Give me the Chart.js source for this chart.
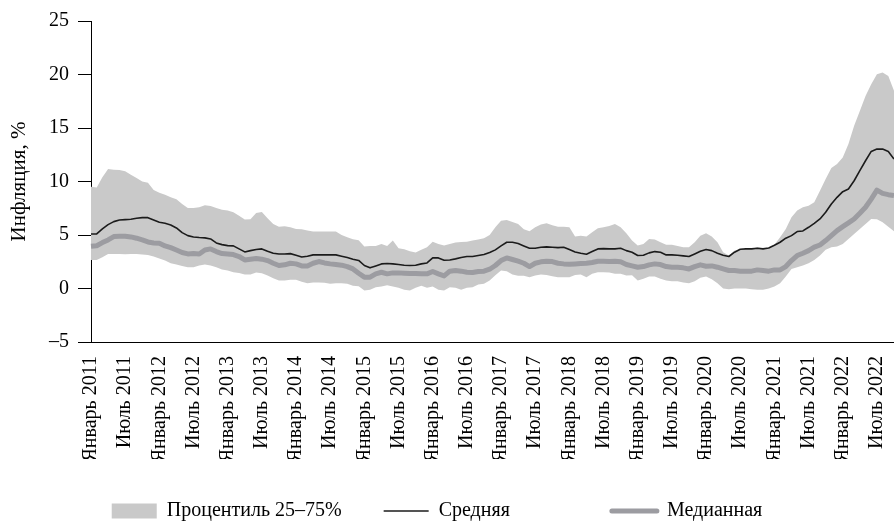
<!DOCTYPE html>
<html>
<head>
<meta charset="utf-8">
<script src="https://cdn.jsdelivr.net/npm/chart.js@4/dist/chart.umd.min.js"></script>
<style>
html,body{margin:0;padding:0;background:#fff;}
#wrap{width:894px;height:522px;}
</style>
</head>
<body>
<div id="wrap"><canvas id="c" width="894" height="522"></canvas></div>
<script>
// ---- data (Jan 2011 .. Oct 2022, monthly) ----
const monthNames = ['Январь','Февраль','Март','Апрель','Май','Июнь','Июль','Август','Сентябрь','Октябрь','Ноябрь','Декабрь'];
const years = [2011,2012,2013,2014,2015,2016,2017,2018,2019,2020,2021,2022];
const lastMonthIndex2022 = 9; // October 2022
const categories = [];
years.forEach(y => monthNames.forEach((m, k) => {
  if (y < 2022 || k <= lastMonthIndex2022) categories.push(m + ' ' + y);
}));

const meanValues = [
  5.1, 5.1, 5.57, 5.97, 6.25, 6.4, 6.44, 6.47, 6.56, 6.62, 6.62, 6.4,
  6.19, 6.09, 5.94, 5.66, 5.22, 4.94, 4.82, 4.76, 4.73, 4.63, 4.26, 4.1,
  4.01, 3.98, 3.7, 3.42, 3.54, 3.64, 3.7, 3.48, 3.3, 3.23, 3.23, 3.26,
  3.11, 2.95, 3.02, 3.14, 3.14, 3.14, 3.14, 3.14, 3.02, 2.89, 2.74, 2.62,
  2.15, 1.93, 2.11, 2.3, 2.33, 2.3, 2.24, 2.18, 2.15, 2.18, 2.3, 2.39,
  2.86, 2.86, 2.64, 2.67, 2.77, 2.89, 2.99, 2.99, 3.08, 3.17, 3.36, 3.61,
  3.98, 4.32, 4.32, 4.2, 3.98, 3.76, 3.76, 3.86, 3.89, 3.86, 3.82, 3.86,
  3.64, 3.42, 3.3, 3.2, 3.45, 3.7, 3.73, 3.7, 3.7, 3.76, 3.54,
  3.39, 3.08, 3.11, 3.33, 3.45, 3.39, 3.14, 3.14, 3.11, 3.05, 2.99, 3.23,
  3.48, 3.64, 3.54, 3.3, 3.11, 2.99, 3.39, 3.67, 3.7, 3.7, 3.76, 3.7,
  3.79, 4.04, 4.32, 4.7, 4.94, 5.32, 5.38, 5.72, 6.09, 6.5, 7.12, 7.9,
  8.52, 9.05, 9.3, 10.07, 11.01, 11.94, 12.81, 13.03, 13.03, 12.81, 12.1
];

const medianValues = [
  3.95, 4.0, 4.29, 4.54, 4.85, 4.88, 4.88, 4.82, 4.7, 4.54, 4.35, 4.26,
  4.23, 3.98, 3.82, 3.6, 3.36, 3.23, 3.26, 3.23, 3.6, 3.7, 3.45, 3.26,
  3.23, 3.17, 2.99, 2.67, 2.74, 2.8, 2.74, 2.61, 2.36, 2.15, 2.21, 2.36,
  2.3, 2.11, 2.11, 2.36, 2.52, 2.39, 2.3, 2.24, 2.18, 2.05, 1.83, 1.43,
  1.06, 1.06, 1.37, 1.52, 1.37, 1.46, 1.46, 1.43, 1.4, 1.4, 1.37, 1.37,
  1.59, 1.37, 1.18, 1.62, 1.68, 1.62, 1.52, 1.49, 1.59, 1.62, 1.8, 2.15,
  2.61, 2.86, 2.71, 2.55, 2.36, 2.05, 2.36, 2.49, 2.55, 2.52, 2.36, 2.3,
  2.27, 2.3, 2.33, 2.36, 2.43, 2.55, 2.55, 2.52, 2.55, 2.49, 2.24,
  2.11, 1.99, 2.05, 2.21, 2.3, 2.24, 2.05, 1.99, 1.99, 1.93, 1.83, 2.05,
  2.21, 2.08, 2.11, 1.99, 1.83, 1.68, 1.68, 1.62, 1.62, 1.62, 1.74, 1.68,
  1.62, 1.74, 1.74, 2.05, 2.61, 3.08, 3.3, 3.54, 3.86, 4.07, 4.48, 4.94,
  5.41, 5.78, 6.13, 6.5, 7.03, 7.59, 8.36, 9.2, 8.89, 8.77, 8.68
];

const p75Values = [
  9.51, 9.45, 10.39, 11.16, 11.1, 11.07, 10.95, 10.63, 10.32, 10.01, 9.89, 9.2,
  8.96, 8.77, 8.52, 8.33, 7.9, 7.52, 7.52, 7.59, 7.77, 7.71, 7.52, 7.37,
  7.28, 7.12, 6.81, 6.44, 6.47, 7.06, 7.15, 6.56, 6.03, 5.78, 5.81, 5.72,
  5.57, 5.53, 5.41, 5.32, 5.32, 5.32, 5.32, 5.32, 5.0, 4.79, 4.6, 4.5,
  3.92, 3.98, 3.98, 4.17, 3.98, 4.48, 3.76, 3.67, 3.48, 3.36, 3.61, 3.86,
  4.38, 4.17, 4.01, 4.17, 4.29, 4.35, 4.38, 4.48, 4.57, 4.7, 5.0, 5.72,
  6.34, 6.41, 6.22, 6.03, 5.53, 5.35, 5.72, 5.97, 6.09, 5.91, 5.78, 5.78,
  5.72, 4.85, 4.94, 4.85, 5.26, 5.63, 5.72, 5.85, 6.03, 5.72, 5.16,
  4.48, 4.01, 4.17, 4.63, 4.57, 4.32, 4.1, 4.1, 3.98, 3.86, 3.86, 4.32,
  4.94, 5.16, 4.85, 4.32, 3.39, 3.08, 3.54, 3.61, 3.7, 3.7, 3.86, 3.76,
  3.79, 4.1, 4.79, 5.57, 6.65, 7.28, 7.59, 7.74, 8.05, 9.14, 10.23, 11.26,
  11.63, 12.25, 13.5, 15.2, 16.6, 18.0, 19.09, 20.02, 20.18, 19.87, 18.47
];

const p25Values = [
  2.67, 2.67, 2.92, 3.23, 3.23, 3.23, 3.2, 3.23, 3.23, 3.17, 3.14, 2.99,
  2.8, 2.61, 2.36, 2.24, 2.11, 1.99, 1.99, 2.15, 2.24, 2.15, 1.99, 1.77,
  1.68, 1.52, 1.46, 1.31, 1.31, 1.49, 1.43, 1.21, 0.96, 0.75, 0.75, 0.81,
  0.81, 0.62, 0.5, 0.56, 0.56, 0.53, 0.44, 0.5, 0.5, 0.44, 0.25, 0.2,
  -0.19, -0.12, 0.12, 0.19, 0.31, 0.19, 0.06, -0.12, -0.19, 0.06, 0.25, 0.06,
  0.19, -0.12, -0.19, 0.12, 0.06, -0.12, 0.06, 0.12, 0.37, 0.44, 0.75, 1.24,
  1.68, 1.62, 1.31, 1.18, 1.18, 1.06, 1.21, 1.31, 1.27, 1.15, 1.06, 1.06,
  1.06, 1.27, 1.31, 1.06, 1.37, 1.52, 1.52, 1.49, 1.37, 1.37, 1.21,
  1.25, 0.75, 0.9, 1.12, 1.12, 0.9, 0.75, 0.68, 0.68, 0.56, 0.5, 0.68,
  1.0, 1.12, 0.87, 0.5, 0.0, -0.06, 0.0, 0.0, 0.0, -0.06, -0.12, -0.12,
  0.0, 0.19, 0.5, 1.12, 1.83, 1.99, 2.15, 2.36, 2.67, 3.08, 3.61, 3.86,
  3.92, 4.17, 4.63, 5.1, 5.57, 6.03, 6.5, 6.47, 6.19, 5.78, 5.35
];

const yTickValues = [-5, 0, 5, 10, 15, 20, 25];
const seriesNames = ['Процентиль 25–75%', 'Средняя', 'Медианная'];
const yTitle = 'Инфляция, %';

// ---- styles ----
const bandColor = '#c9c9c9';
const meanColor = '#1b1b1b';
const medianColor = '#9c9ca1';
const FONT = 'Liberation Serif';

Chart.defaults.font.family = FONT;
Chart.defaults.font.size = 20;
Chart.defaults.color = '#000';

const NB = '\u00A0';

new Chart(document.getElementById('c'), {
  type: 'line',
  data: {
    labels: categories,
    datasets: [
      { label: seriesNames[1], data: meanValues, borderColor: meanColor, borderWidth: 1.6,
        pointRadius: 0, tension: 0, fill: false, borderJoinStyle: 'round' },
      { label: seriesNames[2], data: medianValues, borderColor: medianColor, borderWidth: 5,
        pointRadius: 0, tension: 0, fill: false, borderJoinStyle: 'round' },
      { label: seriesNames[0], data: p75Values, borderColor: 'rgba(0,0,0,0)', borderWidth: 0,
        backgroundColor: bandColor, pointRadius: 0, tension: 0, fill: '+1' },
      { label: 'p25', data: p25Values, borderColor: 'rgba(0,0,0,0)', borderWidth: 0,
        pointRadius: 0, tension: 0, fill: false }
    ]
  },
  options: {
    responsive: false,
    animation: false,
    devicePixelRatio: 1,
    layout: { padding: { top: 20, right: 0, bottom: -9, left: 0 } },
    scales: {
      x: {
        type: 'category',
        offset: false,
        grid: { display: true, drawOnChartArea: false, drawTicks: false },
        border: { display: true, color: '#000', width: 1 },
        ticks: {
          autoSkip: false, minRotation: 90, maxRotation: 90, padding: 14, color: '#000',
          font: { family: FONT, size: 20 },
          callback: function (v, i) { return i % 6 === 0 ? this.getLabelForValue(v) : ''; }
        },
        afterFit: function (s) { s.height = 117; s.paddingLeft = 0; s.paddingRight = 0; }
      },
      y: {
        min: -5, max: 25,
        afterBuildTicks: function (s) { s.ticks = yTickValues.map(v => ({ value: v })); },
        ticks: {
          padding: 9, color: '#000', font: { family: FONT, size: 20 },
          callback: function (v) { return v < 0 ? '\u2013' + Math.abs(v) : String(v); }
        },
        grid: { drawOnChartArea: false, drawTicks: true, tickLength: 13, color: '#000', lineWidth: 1 },
        border: { display: true, color: '#000', width: 1 },
        title: { display: true, text: yTitle, color: '#000', font: { family: FONT, size: 21 },
                 padding: { top: 7, bottom: 0 } },
        afterFit: function (s) { s.width = 91; }
      }
    },
    plugins: {
      tooltip: { enabled: false },
      legend: {
        position: 'bottom',
        labels: {
          usePointStyle: true, pointStyleWidth: 45, boxHeight: 15, padding: 42,
          color: '#000', font: { family: FONT, size: 20 },
          generateLabels: function () {
            return [
              { text: seriesNames[0], fillStyle: bandColor, strokeStyle: 'rgba(0,0,0,0)', lineWidth: 0,
                pointStyle: 'rect', hidden: false, datasetIndex: 2, fontColor: '#000' },
              { text: seriesNames[1] + NB.repeat(12), fillStyle: 'rgba(0,0,0,0)', strokeStyle: meanColor,
                lineWidth: 1.6, lineCap: 'butt', pointStyle: 'line', hidden: false, datasetIndex: 0, fontColor: '#000' },
              { text: seriesNames[2] + NB.repeat(4), fillStyle: 'rgba(0,0,0,0)', strokeStyle: medianColor,
                lineWidth: 5, lineCap: 'round', pointStyle: 'line', hidden: false, datasetIndex: 1, fontColor: '#000' }
            ];
          }
        }
      }
    }
  }
});
</script>
</body>
</html>
